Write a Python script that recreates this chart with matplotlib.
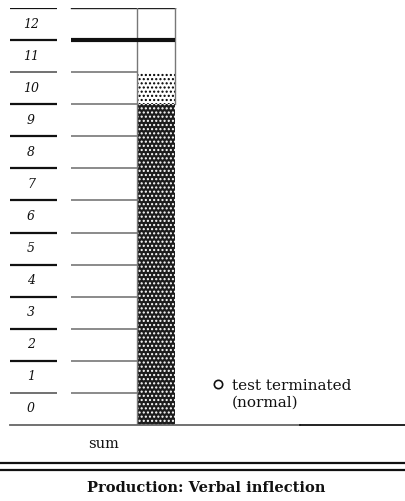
import matplotlib
matplotlib.use("Agg")
import matplotlib.pyplot as plt
import matplotlib.lines as mlines

# ---- data ----
categories = ["sum"]
score_dark = [10]        # dark dotted segment
score_light = [1]        # light dotted segment on top
normal_threshold = 12    # thick line ("test terminated (normal)")
ymax_level = 13
tick_labels = [str(i) for i in range(0, 13)]
legend_lines = ["test terminated", "(normal)"]
title = "Production: Verbal inflection"

W, H = 406, 501
fig = plt.figure(figsize=(W / 100, H / 100), dpi=100)

def fy(p):  # pixel y (from top) -> figure fraction
    return 1 - p / H

y0_pix, ytop_pix = 425, 8
ax = fig.add_axes([0, fy(y0_pix), 1, fy(ytop_pix) - fy(y0_pix)])
ax.set_xlim(0, W)
ax.set_ylim(0, ymax_level)
ax.axis("off")

serif = ["DejaVu Serif"]
plt.rcParams["hatch.linewidth"] = 1.0

bar_x = 156
bar_w = 38
# dark segment
ax.bar([bar_x], score_dark, width=bar_w, bottom=0, color="#1c1c1c",
       edgecolor="white", linewidth=0, hatch="....", zorder=3)
# light segment
ax.bar([bar_x], score_light, width=bar_w, bottom=score_dark, color="white",
       edgecolor="black", linewidth=0, hatch="....", zorder=3)
# gray edges of bar / box
ax.plot([bar_x - bar_w / 2] * 2, [0, ymax_level], color="#777777", lw=1, zorder=4)
ax.plot([bar_x + bar_w / 2] * 2, [score_dark[0], ymax_level], color="#777777", lw=1, zorder=4)

# left short tick lines and labels
for lvl in range(1, ymax_level + 1):
    dark = lvl >= 2 and lvl != 11
    ax.plot([10, 57], [lvl, lvl], color="#111111" if dark else "#666666",
            lw=1.6 if dark else 1.3, solid_capstyle="butt")
for i, lab in enumerate(tick_labels):
    ax.text(31, i + 0.5, lab, ha="center", va="center", fontsize=9,
            style="italic", family=serif, color="#111111")

# right gray lines
for lvl in range(1, ymax_level):
    ax.plot([71, bar_x - bar_w / 2], [lvl, lvl], color="#777777", lw=1.2,
            solid_capstyle="butt")
ax.plot([71, bar_x + bar_w / 2], [ymax_level, ymax_level], color="#222222", lw=1.0)
# threshold line
ax.plot([71, bar_x + bar_w / 2], [normal_threshold, normal_threshold],
        color="#111111", lw=3.0, solid_capstyle="butt", zorder=5)

# baseline
ax.plot([10, 300], [0, 0], color="#666666", lw=1.3, clip_on=False, zorder=6)
ax.plot([300, 406], [0, 0], color="#111111", lw=1.3, clip_on=False, zorder=6)

# legend
fig.add_artist(mlines.Line2D([218 / W], [fy(384)], marker="o", markersize=6,
                             markerfacecolor="none", markeredgecolor="#111111",
                             markeredgewidth=1.2, linestyle="none"))
fig.text(232 / W, fy(390), legend_lines[0], ha="left", va="baseline", fontsize=11,
         family=serif, color="#111111")
fig.text(232 / W, fy(407), legend_lines[1], ha="left", va="baseline", fontsize=11,
         family=serif, color="#111111")

# category label
fig.text(104 / W, fy(444), categories[0], ha="center", va="center",
         fontsize=10.5, family=serif, color="#111111")

# double lines
for py in (463, 470):
    fig.add_artist(mlines.Line2D([0, 1], [fy(py), fy(py)], color="#111111", lw=1.6))

fig.text(206 / W, fy(488), title, ha="center", va="center", fontsize=10.5,
         fontweight="bold", family=serif, color="#111111")

fig.savefig("out.png", dpi=100)
